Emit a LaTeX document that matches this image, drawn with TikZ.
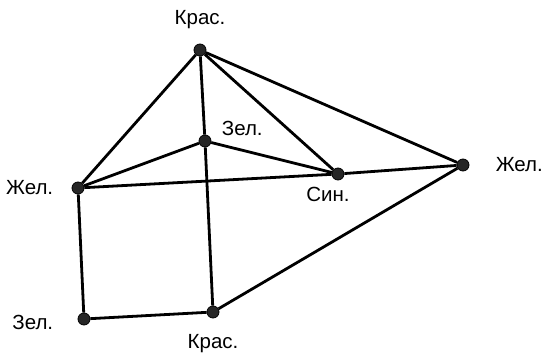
\documentclass[tikz,border=0pt]{standalone}
\usepackage{fontspec}
\setmainfont{Liberation Sans}
\usetikzlibrary{positioning}

\begin{document}
\begin{tikzpicture}[x=1pt, y=-1pt, line width=2.8pt,
  vertex/.style={circle, fill=black!85, draw=black, line width=0.8pt, inner sep=0pt, minimum size=12pt, label distance=6pt},
  every label/.style={font=\fontsize{20.5}{24}\selectfont, inner sep=1pt}]

  \useasboundingbox (0,0) rectangle (542,356);

  % vertices
  \node [vertex, label={[label distance=12pt]above:Крас.}] (krasTop) at (200,50) {};
  \node [vertex, label={[xshift=10pt, yshift=-2pt]above right:Зел.}] (zelMid) at (205,141) {};
  \node [vertex, label={[xshift=-10pt, label distance=4pt]below:Син.}] (sin) at (338,174) {};
  \node [vertex, label={[label distance=16pt]left:Жел.}] (zhelLeft) at (78,188) {};
  \node [vertex, label={[label distance=24pt]right:Жел.}] (zhelRight) at (463,165) {};
  \node [vertex, label={[label distance=22pt, yshift=-3pt]left:Зел.}] (zelBot) at (84,319) {};
  \node [vertex, label={[label distance=14pt]below:Крас.}] (krasBot) at (213,312) {};

  % edges
  \draw (krasTop) -- (zhelLeft);
  \draw (krasTop) -- (sin);
  \draw (krasTop) -- (zhelRight);
  \draw (krasTop) -- (zelMid);
  \draw (zelMid) -- (krasBot);
  \draw (zelMid) -- (zhelLeft);
  \draw (zelMid) -- (sin);
  \draw (zhelLeft) -- (sin);
  \draw (sin) -- (zhelRight);
  \draw (zhelLeft) -- (zelBot);
  \draw (zelBot) -- (krasBot);
  \draw (krasBot) -- (zhelRight);
\end{tikzpicture}
\end{document}
